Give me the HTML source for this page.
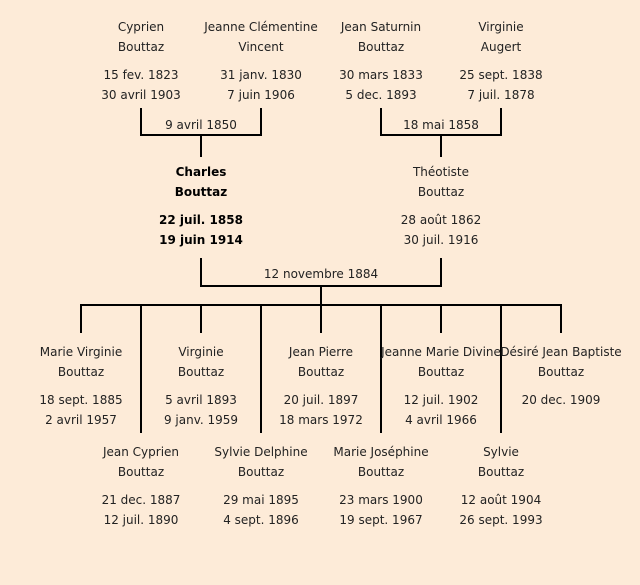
<!DOCTYPE html>
<html><head><meta charset="utf-8"><style>
body{margin:0;background:#fdebd8;}
#c{position:relative;width:640px;height:585px;background:#fdebd8;font-family:"DejaVu Sans","Liberation Sans",sans-serif;font-size:12px;color:#222;overflow:hidden}
.t{position:absolute;width:140px;margin-left:-70px;text-align:center;line-height:20px;white-space:nowrap}
.t p{margin:0}
.g{height:8px}
.b{font-weight:bold;color:#000}
.l{position:absolute;background:#000}
.m{position:absolute;width:160px;margin-left:-80px;text-align:center;line-height:16px}
</style></head><body><div id="c">
<!-- lines -->
<div class="l" style="left:140px;top:108px;width:2px;height:28px"></div>
<div class="l" style="left:260px;top:108px;width:2px;height:28px"></div>
<div class="l" style="left:140px;top:134px;width:122px;height:2px"></div>
<div class="l" style="left:200px;top:134px;width:2px;height:23px"></div>
<div class="l" style="left:380px;top:108px;width:2px;height:28px"></div>
<div class="l" style="left:500px;top:108px;width:2px;height:28px"></div>
<div class="l" style="left:380px;top:134px;width:122px;height:2px"></div>
<div class="l" style="left:440px;top:134px;width:2px;height:23px"></div>
<div class="l" style="left:200px;top:258px;width:2px;height:29px"></div>
<div class="l" style="left:440px;top:258px;width:2px;height:29px"></div>
<div class="l" style="left:200px;top:285px;width:242px;height:2px"></div>
<div class="l" style="left:320px;top:285px;width:2px;height:21px"></div>
<div class="l" style="left:80px;top:304px;width:482px;height:2px"></div>
<div class="l" style="left:80px;top:304px;width:2px;height:29px"></div>
<div class="l" style="left:200px;top:304px;width:2px;height:29px"></div>
<div class="l" style="left:320px;top:304px;width:2px;height:29px"></div>
<div class="l" style="left:440px;top:304px;width:2px;height:29px"></div>
<div class="l" style="left:560px;top:304px;width:2px;height:29px"></div>
<div class="l" style="left:140px;top:304px;width:2px;height:129px"></div>
<div class="l" style="left:260px;top:304px;width:2px;height:129px"></div>
<div class="l" style="left:380px;top:304px;width:2px;height:129px"></div>
<div class="l" style="left:500px;top:304px;width:2px;height:129px"></div>
<!-- marriages -->
<div class="m" style="left:201px;top:117px">9 avril 1850</div>
<div class="m" style="left:441px;top:117px">18 mai 1858</div>
<div class="m" style="left:321px;top:266px">12 novembre 1884</div>
<!-- grandparents -->
<div class="t" style="left:141px;top:17px"><p>Cyprien</p><p>Bouttaz</p><div class="g"></div><p>15 fev. 1823</p><p>30 avril 1903</p></div>
<div class="t" style="left:261px;top:17px"><p>Jeanne Clémentine</p><p>Vincent</p><div class="g"></div><p>31 janv. 1830</p><p>7 juin 1906</p></div>
<div class="t" style="left:381px;top:17px"><p>Jean Saturnin</p><p>Bouttaz</p><div class="g"></div><p>30 mars 1833</p><p>5 dec. 1893</p></div>
<div class="t" style="left:501px;top:17px"><p>Virginie</p><p>Augert</p><div class="g"></div><p>25 sept. 1838</p><p>7 juil. 1878</p></div>
<!-- parents -->
<div class="t b" style="left:201px;top:162px"><p>Charles</p><p>Bouttaz</p><div class="g"></div><p>22 juil. 1858</p><p>19 juin 1914</p></div>
<div class="t" style="left:441px;top:162px"><p>Théotiste</p><p>Bouttaz</p><div class="g"></div><p>28 août 1862</p><p>30 juil. 1916</p></div>
<!-- children row1 -->
<div class="t" style="left:81px;top:342px"><p>Marie Virginie</p><p>Bouttaz</p><div class="g"></div><p>18 sept. 1885</p><p>2 avril 1957</p></div>
<div class="t" style="left:201px;top:342px"><p>Virginie</p><p>Bouttaz</p><div class="g"></div><p>5 avril 1893</p><p>9 janv. 1959</p></div>
<div class="t" style="left:321px;top:342px"><p>Jean Pierre</p><p>Bouttaz</p><div class="g"></div><p>20 juil. 1897</p><p>18 mars 1972</p></div>
<div class="t" style="left:441px;top:342px"><p>Jeanne Marie Divine</p><p>Bouttaz</p><div class="g"></div><p>12 juil. 1902</p><p>4 avril 1966</p></div>
<div class="t" style="left:561px;top:342px"><p>Désiré Jean Baptiste</p><p>Bouttaz</p><div class="g"></div><p>20 dec. 1909</p></div>
<!-- children row2 -->
<div class="t" style="left:141px;top:442px"><p>Jean Cyprien</p><p>Bouttaz</p><div class="g"></div><p>21 dec. 1887</p><p>12 juil. 1890</p></div>
<div class="t" style="left:261px;top:442px"><p>Sylvie Delphine</p><p>Bouttaz</p><div class="g"></div><p>29 mai 1895</p><p>4 sept. 1896</p></div>
<div class="t" style="left:381px;top:442px"><p>Marie Joséphine</p><p>Bouttaz</p><div class="g"></div><p>23 mars 1900</p><p>19 sept. 1967</p></div>
<div class="t" style="left:501px;top:442px"><p>Sylvie</p><p>Bouttaz</p><div class="g"></div><p>12 août 1904</p><p>26 sept. 1993</p></div>
</div></body></html>
